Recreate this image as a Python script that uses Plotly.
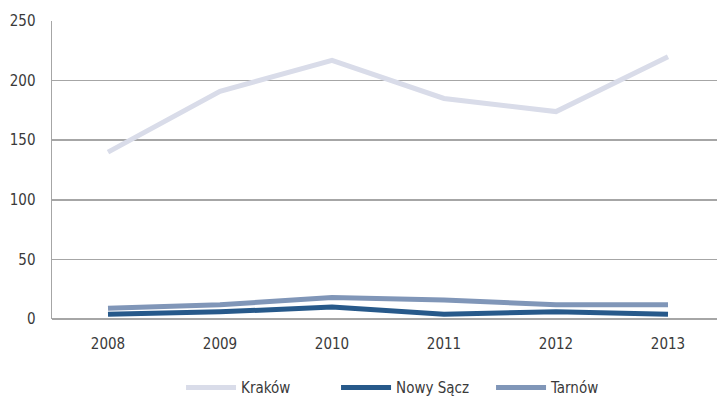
import plotly.graph_objects as go

years = ["2008", "2009", "2010", "2011", "2012", "2013"]
krakow = [140, 191, 217, 185, 174, 220]
nowy_sacz = [4, 6, 10, 4, 6, 4]
tarnow = [9, 12, 18, 16, 12, 12]

FONT = "DejaVu Sans Condensed, Liberation Sans Narrow, Roboto, sans-serif"

fig = go.Figure()
fig.add_trace(go.Scatter(x=years, y=krakow, name="Kraków", mode="lines",
                         line=dict(color="#d9dce9", width=5)))
fig.add_trace(go.Scatter(x=years, y=nowy_sacz, name="Nowy Sącz", mode="lines",
                         line=dict(color="#27598a", width=5)))
fig.add_trace(go.Scatter(x=years, y=tarnow, name="Tarnów", mode="lines",
                         line=dict(color="#8096b8", width=5)))

fig.update_layout(
    width=724, height=403,
    margin=dict(l=52, r=0, t=21, b=84, autoexpand=False),
    paper_bgcolor="white", plot_bgcolor="white",
    font=dict(family=FONT, size=15, color="#3a3a3a"),
    xaxis=dict(type="category", range=[-0.5, 5.5], showgrid=False,
               showline=False, zeroline=False, mirror=False,
               showspikes=False, ticks="", ticklabelstandoff=14,
               tickfont=dict(size=15), automargin=False),
    yaxis=dict(range=[0, 250], tickvals=[0, 50, 100, 150, 200, 250],
               showgrid=True, gridcolor="#a6a6a6", gridwidth=1.5,
               zeroline=True, zerolinecolor="#a6a6a6", zerolinewidth=1.5,
               showline=True, linecolor="#a6a6a6", linewidth=1.5,
               mirror=False, showspikes=False,
               ticks="", ticklabelstandoff=12, tickfont=dict(size=15),
               automargin=False),
    legend=dict(orientation="h", x=0.538, xanchor="center", y=-0.175,
                yanchor="top", font=dict(size=15), itemwidth=50,
                entrywidth=90, entrywidthmode="pixels",
                tracegroupgap=0),
    showlegend=True,
    hovermode=False,
)

fig.write_html("out.html", config={"displayModeBar": False, "staticPlot": True},
               post_script="document.body.style.margin='0';document.body.style.overflow='hidden';")
